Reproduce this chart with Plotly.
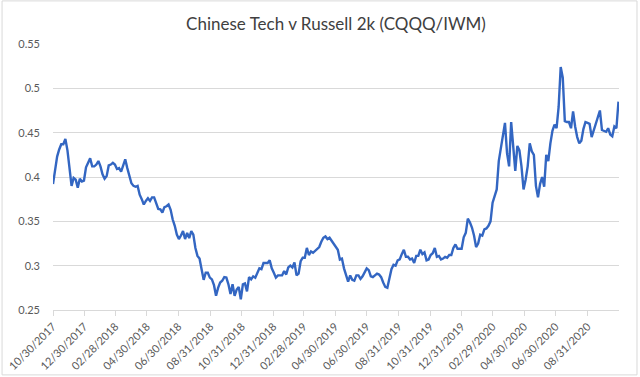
import pandas as pd
import plotly.graph_objects as go

# Sampled every 4 calendar days from 2017-10-30
start_date = "2017-10-30"
step = "4D"
ratio = [
    0.392, 0.406, 0.423, 0.431, 0.437, 0.437, 0.443, 0.430, 0.407, 0.390,
    0.399, 0.397, 0.388, 0.398, 0.395, 0.396, 0.411, 0.417, 0.421, 0.412,
    0.412, 0.414, 0.418, 0.412, 0.403, 0.398, 0.401, 0.413, 0.414, 0.416,
    0.414, 0.409, 0.410, 0.406, 0.412, 0.420, 0.410, 0.402, 0.393, 0.390,
    0.389, 0.390, 0.380, 0.375, 0.369, 0.373, 0.376, 0.373, 0.377, 0.377,
    0.371, 0.364, 0.3635, 0.360, 0.366, 0.367, 0.369, 0.363, 0.352, 0.345,
    0.335, 0.330, 0.334, 0.339, 0.330, 0.337, 0.331, 0.339, 0.335, 0.320,
    0.311, 0.308, 0.296, 0.284, 0.292, 0.292, 0.2865, 0.2845, 0.278, 0.266,
    0.275, 0.281, 0.283, 0.287, 0.2865, 0.279, 0.268, 0.279, 0.266, 0.273,
    0.276, 0.262, 0.279, 0.280, 0.271, 0.287, 0.2845, 0.288, 0.2865, 0.291,
    0.297, 0.296, 0.303, 0.303, 0.303, 0.306, 0.297, 0.292, 0.2865, 0.289,
    0.289, 0.289, 0.294, 0.290, 0.298, 0.300, 0.298, 0.3035, 0.289, 0.291,
    0.305, 0.309, 0.309, 0.320, 0.312, 0.316, 0.3145, 0.3165, 0.318, 0.321,
    0.327, 0.3315, 0.333, 0.330, 0.3315, 0.328, 0.325, 0.321, 0.318, 0.307,
    0.308, 0.297, 0.289, 0.282, 0.289, 0.284, 0.283, 0.289, 0.289, 0.285,
    0.288, 0.293, 0.297, 0.295, 0.288, 0.287, 0.289, 0.291, 0.290, 0.287,
    0.281, 0.276, 0.275, 0.284, 0.296, 0.301, 0.300, 0.306, 0.307, 0.313,
    0.318, 0.310, 0.310, 0.307, 0.308, 0.303, 0.311, 0.311, 0.318, 0.313,
    0.315, 0.306, 0.307, 0.312, 0.314, 0.320, 0.310, 0.311, 0.307, 0.308,
    0.310, 0.309, 0.312, 0.312, 0.320, 0.324, 0.319, 0.319, 0.319, 0.332,
    0.337, 0.353, 0.349, 0.343, 0.334, 0.321, 0.325, 0.335, 0.334, 0.341,
    0.342, 0.345, 0.350, 0.371, 0.378, 0.386, 0.418, 0.433, 0.448, 0.461,
    0.427, 0.412, 0.462, 0.431, 0.407, 0.435, 0.430, 0.412, 0.386, 0.397,
    0.412, 0.438, 0.429, 0.425, 0.390, 0.377, 0.392, 0.400, 0.389, 0.425,
    0.418, 0.438, 0.452, 0.459, 0.455, 0.479, 0.524, 0.512, 0.463, 0.462,
    0.462, 0.455, 0.474, 0.457, 0.445, 0.438, 0.441, 0.454, 0.462, 0.461,
    0.460, 0.445, 0.453, 0.460, 0.466, 0.475, 0.453, 0.452, 0.451, 0.455,
    0.448, 0.446, 0.457, 0.455, 0.485,
]
dates = pd.date_range(start=start_date, periods=len(ratio), freq=step)

tick_dates = [
    "2017-10-30", "2017-12-30", "2018-02-28", "2018-04-30", "2018-06-30",
    "2018-08-31", "2018-10-31", "2018-12-31", "2019-02-28", "2019-04-30",
    "2019-06-30", "2019-08-31", "2019-10-31", "2019-12-31", "2020-02-29",
    "2020-04-30", "2020-06-30", "2020-08-31",
]
tick_labels = [pd.Timestamp(d).strftime("%m/%d/%Y") for d in tick_dates]
y_ticks = [0.25, 0.3, 0.35, 0.4, 0.45, 0.5, 0.55]
y_labels = ["0.25", "0.3", "0.35", "0.4", "0.45", "0.5", "0.55"]

title_text = "Chinese Tech v Russell 2k (CQQQ/IWM)"

fig = go.Figure()
fig.add_trace(go.Scatter(
    x=dates, y=ratio, mode="lines",
    line=dict(color="#3366C2", width=2.4),
    showlegend=False, hoverinfo="x+y",
))

grid = "#d9d9d9"
fig.update_layout(
    width=640, height=377,
    margin=dict(l=53, r=21, t=44, b=67, autoexpand=False),
    paper_bgcolor="white", plot_bgcolor="white",
    font=dict(family="Lato, Open Sans, sans-serif", color="#595959", size=11),
    title=dict(text=title_text, x=0.5, xanchor="center", y=0.935, yanchor="middle",
               xref="paper", automargin=False,
               font=dict(size=17, color="#404040", family="Lato, Open Sans, sans-serif")),
)
fig.update_xaxes(
    type="date", automargin=False,
    range=[pd.Timestamp("2017-10-30"), pd.Timestamp("2020-10-31")],
    tickvals=[pd.Timestamp(d) for d in tick_dates], ticktext=tick_labels,
    tickangle=-45, showgrid=False, showline=True, linecolor=grid, linewidth=1,
    ticks="outside", ticklen=5, tickcolor=grid, tickfont=dict(size=11, color="#595959"),
    zeroline=False,
)
fig.update_yaxes(
    automargin=False,
    range=[0.25, 0.55], tickvals=y_ticks, ticktext=y_labels,
    showgrid=True, gridcolor=grid, gridwidth=1, zeroline=False, showline=False,
    ticks="", ticklabelstandoff=12, tickfont=dict(size=11, color="#595959"),
)
fig.add_shape(type="rect", xref="paper", yref="paper",
              x0=-0.090, x1=1.0318, y0=-0.244, y1=1.162,
              line=dict(color=grid, width=1), fillcolor="rgba(0,0,0,0)", layer="below")

fig.write_html(
    "out.html",
    config={"displayModeBar": False},
    post_script="document.body.style.margin='0';document.body.style.overflow='hidden';",
)
